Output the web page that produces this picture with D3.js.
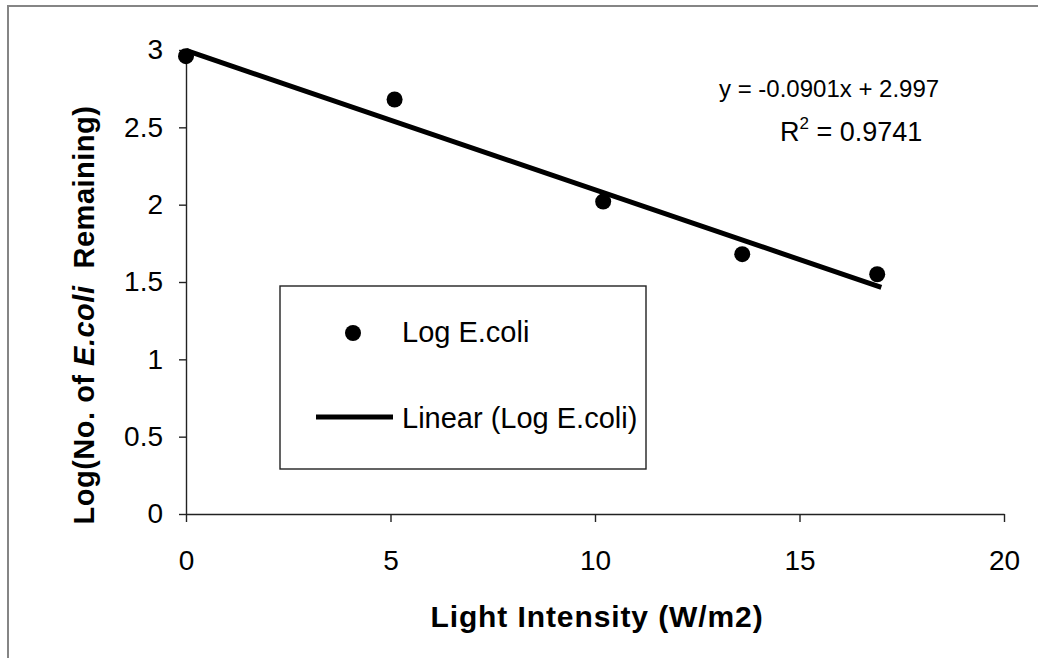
<!DOCTYPE html>
<html>
<head>
<meta charset="utf-8">
<script src="https://cdn.jsdelivr.net/npm/d3@7"></script>
<style>
  body { margin: 0; background: #fff; }
  text { font-family: "Liberation Sans", Arial, sans-serif; fill: #000; }
</style>
</head>
<body>
<div id="scatter"></div>
<script>
// data
var lightIntensity = [0, 5.1, 10.2, 13.6, 16.9];
var logEcoli = [2.96, 2.68, 2.02, 1.68, 1.55];
var xTicks = [0, 5, 10, 15, 20];
var yTicks = [0, 0.5, 1, 1.5, 2, 2.5, 3];
var trendSlope = -0.0901;
var trendIntercept = 2.997;
var trendRange = [0, 17];
var equationText = "y = -0.0901x + 2.997";
var rSquaredText = " = 0.9741";
var legendLabels = ["Log E.coli", "Linear (Log E.coli)"];

var svgWidth = 1038;
var svgHeight = 658;

var margin = {
  top: 50,
  right: 34,
  bottom: 144,
  left: 186
};

var width = svgWidth - margin.left - margin.right;
var height = svgHeight - margin.top - margin.bottom;

var svg = d3.select("#scatter")
            .append("svg")
            .attr("width", svgWidth)
            .attr("height", svgHeight);

// outer chart border (only top and left visible)
svg.append("path")
  .attr("d", "M8,658 L8,6 L1038,6")
  .attr("fill", "none")
  .attr("stroke", "#858585")
  .attr("stroke-width", 2);

var chartGroup = svg.append("g")
  .attr("transform", `translate(${margin.left}, ${margin.top})`);

var xLinearScale = d3.scaleLinear()
                    .domain([0, 20])
                    .range([0, width]);

var yLinearScale = d3.scaleLinear()
                    .domain([0, 3])
                    .range([height, 0]);

//Create the axes
var bottomAxis = d3.axisBottom(xLinearScale)
  .tickValues(xTicks)
  .tickSize(8)
  .tickSizeOuter(0)
  .tickPadding(28)
  .tickFormat(d3.format("d"));

var leftAxis = d3.axisLeft(yLinearScale)
  .tickValues(yTicks)
  .tickSize(7)
  .tickSizeOuter(0)
  .tickPadding(16)
  .tickFormat(d => d);

var xAxisG = chartGroup.append("g")
  .attr("transform", `translate(0, ${height})`)
  .call(bottomAxis);

var yAxisG = chartGroup.append("g")
  .call(leftAxis);

[xAxisG, yAxisG].forEach(function(g) {
  g.select(".domain").attr("stroke", "#222").attr("stroke-width", 1.4);
  g.selectAll(".tick line").attr("stroke", "#222").attr("stroke-width", 1.4);
  g.selectAll(".tick text")
    .attr("font-family", "Liberation Sans, Arial, sans-serif")
    .attr("font-size", 28)
    .attr("fill", "#000");
});
xAxisG.selectAll(".tick text").attr("dy", "0.71em");

//Trendline
var trendData = trendRange.map(x => ({ x: x, y: trendSlope * x + trendIntercept }));

var trendLine = d3.line()
  .x(d => xLinearScale(d.x))
  .y(d => yLinearScale(d.y));

chartGroup.append("path")
  .datum(trendData)
  .attr("d", trendLine)
  .attr("fill", "none")
  .attr("stroke", "#000")
  .attr("stroke-width", 5);

//Create the Scatterplot
var points = lightIntensity.map((x, i) => ({ x: x, y: logEcoli[i] }));

chartGroup.selectAll("circle.pt")
  .data(points)
  .enter()
  .append("circle")
  .attr("class", "pt")
  .attr("cx", d => xLinearScale(d.x))
  .attr("cy", d => yLinearScale(d.y))
  .attr("r", 8)
  .attr("fill", "#000");

// equation labels
svg.append("text")
  .attr("x", 719)
  .attr("y", 97)
  .attr("font-size", 24)
  .text(equationText);

var r2 = svg.append("text")
  .attr("x", 780)
  .attr("y", 141)
  .attr("font-size", 27);
r2.append("tspan").text("R");
r2.append("tspan").attr("font-size", 17).attr("dy", -12).text("2");
r2.append("tspan").attr("dy", 12).text(rSquaredText);

// axis titles
svg.append("text")
  .attr("x", 597)
  .attr("y", 627)
  .attr("text-anchor", "middle")
  .attr("font-size", 30)
  .attr("font-weight", "bold")
  .attr("letter-spacing", 0.9)
  .text("Light Intensity (W/m2)");

var yTitle = svg.append("text")
  .attr("transform", "translate(94, 315) rotate(-90)")
  .attr("text-anchor", "middle")
  .attr("font-size", 29)
  .attr("font-weight", "bold")
  .attr("letter-spacing", 0.5);
yTitle.append("tspan").text("Log(No. of ");
yTitle.append("tspan").attr("font-style", "italic").text("E.coli");
yTitle.append("tspan").text("\u00a0 Remaining)");

// legend
var legend = svg.append("g");

legend.append("rect")
  .attr("x", 280)
  .attr("y", 286)
  .attr("width", 366)
  .attr("height", 183)
  .attr("fill", "#fff")
  .attr("stroke", "#222")
  .attr("stroke-width", 1.4);

legend.append("circle")
  .attr("cx", 353)
  .attr("cy", 333)
  .attr("r", 8)
  .attr("fill", "#000");

legend.append("line")
  .attr("x1", 316)
  .attr("x2", 393)
  .attr("y1", 417)
  .attr("y2", 417)
  .attr("stroke", "#000")
  .attr("stroke-width", 5);

legend.selectAll("text.lg")
  .data(legendLabels)
  .enter()
  .append("text")
  .attr("class", "lg")
  .attr("x", 402)
  .attr("y", (d, i) => i === 0 ? 342 : 428)
  .attr("font-size", 29)
  .text(d => d);
</script>
</body>
</html>
